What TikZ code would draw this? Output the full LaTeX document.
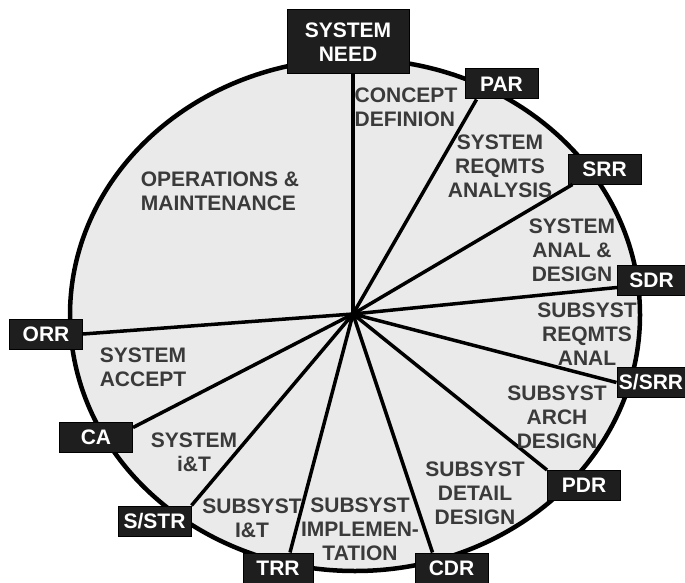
\documentclass[tikz,border=0pt]{standalone}
\usepackage{fontspec}
\setmainfont{Liberation Sans}
\definecolor{wheelfill}{HTML}{EAEAEA}
\definecolor{gatefill}{HTML}{1E1E1E}
\definecolor{phasetext}{HTML}{3A3A3A}
\begin{document}
\begin{tikzpicture}[x=1pt,y=-1pt,
  gate/.style={fill=gatefill,draw=black,line width=1pt,text=white,
    font=\bfseries\fontsize{21}{24}\selectfont,
    minimum width=73pt,minimum height=30pt,inner sep=0pt},
  phase/.style={text=phasetext,font=\bfseries\fontsize{21}{24}\selectfont,
    align=center,inner sep=0pt},
  spoke/.style={line width=3.5pt}]
\useasboundingbox (0,0) rectangle (685,583);
\def\wheel{(355,315) ellipse [x radius=285pt, y radius=256pt]}

\fill[wheelfill] \wheel;
\draw[line width=4.5pt] \wheel;

\node[gate,minimum width=122pt,minimum height=64pt,align=center] (need) at (348,42) {SYSTEM\\NEED};
\node[gate] (par) at (501.5,84) {PAR};
\node[gate] (srr) at (604.5,169) {SRR};
\node[gate,minimum width=68pt] (sdr) at (651.5,280.5) {SDR};
\node[gate,minimum width=68pt] (ssrr) at (651,382.5) {S/SRR};
\node[gate] (pdr) at (584,485.5) {PDR};
\node[gate] (cdr) at (451.5,568) {CDR};
\node[gate,minimum width=70pt] (trr) at (278,568) {TRR};
\node[gate] (sstr) at (154.5,521) {S/STR};
\node[gate] (ca) at (96,437) {CA};
\node[gate] (orr) at (46,334) {ORR};

\coordinate (hub) at (353,314);
\draw[spoke] (hub) -- (hub |- need.south);
\draw[spoke] (hub) -- ([xshift=12pt]par.south west);
\draw[spoke] (hub) -- ([xshift=5pt]srr.south west);
\draw[spoke] (hub) -- ([yshift=-7pt]sdr.west);
\draw[spoke] (hub) -- (ssrr.west);
\draw[spoke] (hub) -- (pdr.north west);
\draw[spoke] (hub) -- ([xshift=18pt]cdr.north west);
\draw[spoke] (hub) -- ([xshift=12pt]trr.north);
\draw[spoke] (hub) -- (sstr.north east);
\draw[spoke] (hub) -- ([yshift=-6pt]ca.north east);
\draw[spoke] (hub) -- (orr.east);

\node[phase,align=left] (ops) at (220,191) {OPERATIONS \&\\MAINTENANCE};
\node[phase,align=left] (concept) at (406,107) {CONCEPT\\DEFINION};
\node[phase] (sysreq) at (500,166) {SYSTEM\\REQMTS\\ANALYSIS};
\node[phase] (sysanal) at (572,250) {SYSTEM\\ANAL \&\\DESIGN};
\node[phase] (subreq) at (587,334) {SUBSYST\\REQMTS\\ANAL};
\node[phase] (subarch) at (557,417) {SUBSYST\\ARCH\\DESIGN};
\node[phase] (subdet) at (475,493) {SUBSYST\\DETAIL\\DESIGN};
\node[phase] (subimpl) at (360,529) {SUBSYST\\IMPLEMEN-\\TATION};
\node[phase] (subit) at (252,518) {SUBSYST\\I\&T};
\node[phase] (sysit) at (194,452) {SYSTEM\\i\&T};
\node[phase,align=left] (sysacc) at (143,367) {SYSTEM\\ACCEPT};
\end{tikzpicture}
\end{document}
